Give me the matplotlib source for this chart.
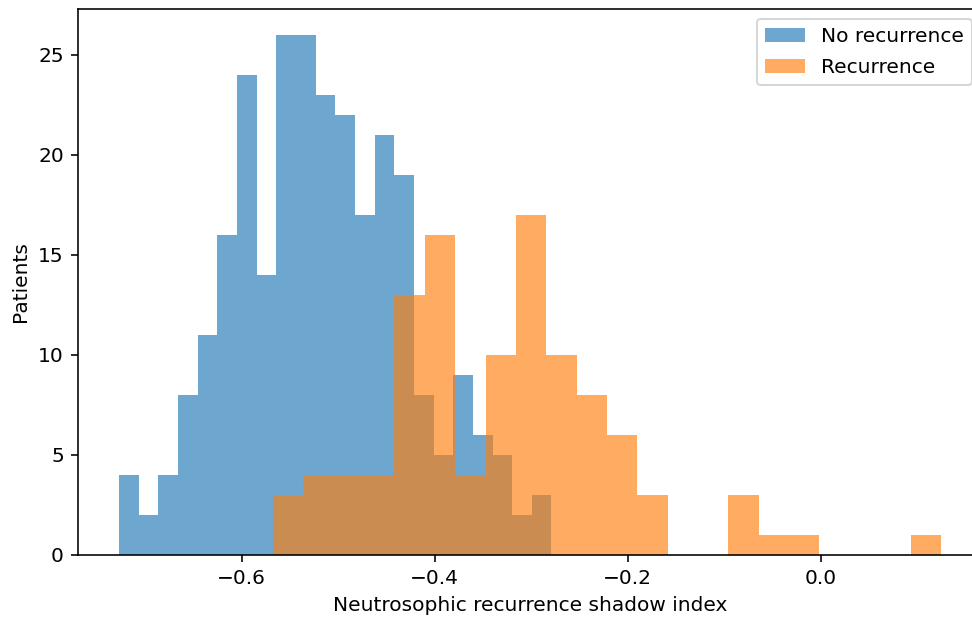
import matplotlib
matplotlib.use("Agg")
import matplotlib.pyplot as plt
import numpy as np

# counts per bin (22 bins each)
no_rec_counts = [4, 2, 4, 8, 11, 16, 24, 14, 26, 26, 23, 22, 17, 21, 19, 8, 5, 9, 6, 5, 2, 3]
rec_counts = [3, 4, 4, 4, 13, 16, 4, 10, 17, 10, 8, 6, 3, 0, 0, 3, 1, 1, 0, 0, 0, 1]

# data range of each group (min, max of the index)
no_rec_range = (-0.7271, -0.2791)
rec_range = (-0.5676, 0.1244)

labels = ["No recurrence", "Recurrence"]

def edges_and_centers(rng, n):
    edges = np.linspace(rng[0], rng[1], n + 1)
    return edges, (edges[:-1] + edges[1:]) / 2

e1, c1 = edges_and_centers(no_rec_range, len(no_rec_counts))
e2, c2 = edges_and_centers(rec_range, len(rec_counts))

dpi = 145
fig = plt.figure(figsize=(972 / dpi, 621 / dpi), dpi=dpi)
ax = fig.add_axes([78 / 972, 66 / 621, (982 - 78) / 972, (555 - 9) / 621])

ax.hist(c1, bins=e1, weights=no_rec_counts, alpha=0.65, label=labels[0])
ax.hist(c2, bins=e2, weights=rec_counts, alpha=0.65, label=labels[1])

ax.set_xlabel("Neutrosophic recurrence shadow index")
ax.set_ylabel("Patients")
ax.legend(loc="upper right", labelspacing=0.6)

fig.savefig("out.png", dpi=dpi)
